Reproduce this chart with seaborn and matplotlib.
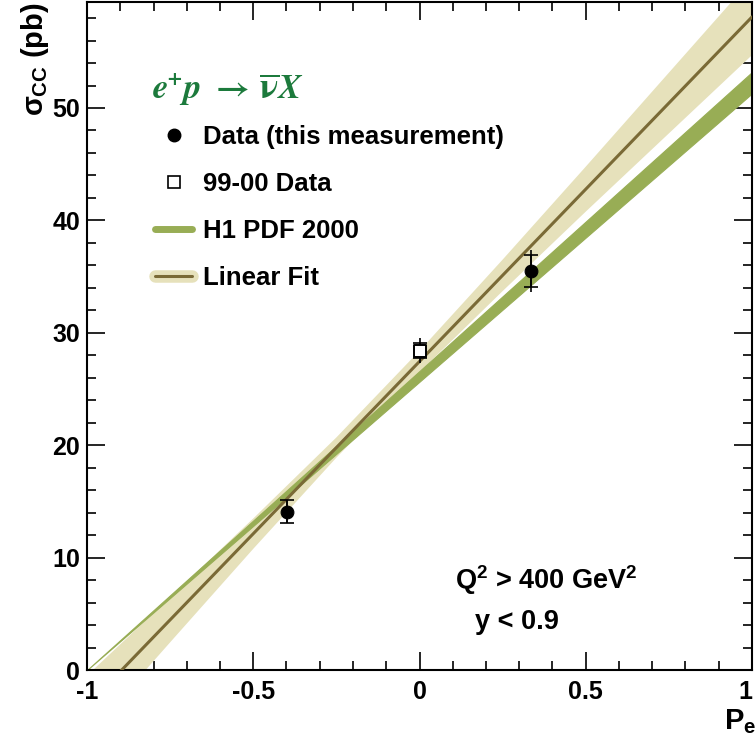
import numpy as np
import pandas as pd
import matplotlib
matplotlib.use("Agg")
import matplotlib.pyplot as plt
import seaborn as sns
from matplotlib.lines import Line2D
from matplotlib.legend_handler import HandlerTuple

# ---------------- data ----------------
data_x = [-0.40, 0.334]
data_y = [14.1, 35.5]
data_stat = [1.05, 1.45]
data_tot = [1.05, 1.85]

old_x = [0.0]
old_y = [28.4]
old_stat = [0.65]
old_tot = [1.1]

# H1 PDF 2000 prediction band
pdf_x = [-1.0, 1.0]
pdf_lo = [0.0, 51.3]
pdf_hi = [0.0, 53.2]

# linear fit line and its error band
fit_x = [-1.0, 1.0]
fit_y = [-3.2, 58.1]
band_x = [-1.0, -0.75, -0.5, -0.25, 0.0, 0.25, 0.5, 0.75, 1.0]
band_c = [-3.2, 4.46, 12.13, 19.79, 27.45, 35.11, 42.78, 50.44, 58.1]
band_hw = [2.7, 2.0, 1.35, 0.9, 0.95, 1.4, 2.0, 2.7, 3.4]

xtick_vals = [-1, -0.5, 0, 0.5, 1]
xtick_labels = ["-1", "-0.5", "0", "0.5", "1"]
ytick_vals = [0, 10, 20, 30, 40, 50]
ytick_labels = ["0", "10", "20", "30", "40", "50"]

# ---------------- style ----------------
sns.set_theme(style="ticks")
plt.rcParams["font.family"] = ["Liberation Sans", "DejaVu Sans"]
plt.rcParams["font.weight"] = "bold"
plt.rcParams["text.color"] = "black"
plt.rcParams["axes.labelcolor"] = "black"
plt.rcParams["xtick.color"] = "black"
plt.rcParams["ytick.color"] = "black"
plt.rcParams["mathtext.fontset"] = "custom"
plt.rcParams["mathtext.rm"] = "Liberation Sans:bold"
plt.rcParams["mathtext.bf"] = "Liberation Sans:bold"
plt.rcParams["mathtext.it"] = "Liberation Sans:bold"
plt.rcParams["mathtext.sf"] = "Liberation Sans:bold"

BEIGE = "#e6e1bb"
BROWN = "#7a6a36"
GREEN = "#98ad55"
TITLE_GREEN = "#1c7a3c"

fig = plt.figure(figsize=(7.55, 7.42), dpi=100)
ax = fig.add_axes([87 / 755, 1 - 670 / 742, (752 - 87) / 755, (670 - 2) / 742])

# fit band
bx = np.array(band_x)
bc = np.array(band_c)
bh = np.array(band_hw)
ax.fill_between(bx, bc - bh, bc + bh, color=BEIGE, lw=0, zorder=1)

# H1 PDF band
ax.fill_between(pdf_x, pdf_lo, pdf_hi, color=GREEN, lw=0.8, edgecolor=GREEN, zorder=2)

# fit line
fit_df = pd.DataFrame({"x": fit_x, "y": fit_y})
sns.lineplot(data=fit_df, x="x", y="y", color=BROWN, lw=2.2, ax=ax, zorder=3)

# error bars: total (no caps), stat (caps)
ax.errorbar(data_x, data_y, yerr=data_tot, fmt="none", ecolor="black", elinewidth=1.2, capsize=0, zorder=4)
ax.errorbar(data_x, data_y, yerr=data_stat, fmt="none", ecolor="black", elinewidth=1.2, capsize=5, capthick=1.2, zorder=4)
ax.errorbar(old_x, old_y, yerr=old_tot, fmt="none", ecolor="black", elinewidth=1.2, capsize=0, zorder=4)
ax.errorbar(old_x, old_y, yerr=old_stat, fmt="none", ecolor="black", elinewidth=1.2, capsize=5, capthick=1.2, zorder=4)

# markers
sns.scatterplot(x=data_x, y=data_y, marker="o", s=85, color="black", edgecolor="black", ax=ax, zorder=5)
sns.scatterplot(x=old_x, y=old_y, marker="s", s=85, facecolor="white", edgecolor="black", linewidth=1.4, ax=ax, zorder=5)

# axes
ax.set_xlim(-1, 1)
ax.set_ylim(0, 59.43)
ax.set_xticks(xtick_vals)
ax.set_xticklabels(xtick_labels, fontsize=18, fontweight="bold")
ax.get_xticklabels()[-1].set_horizontalalignment("right")
ax.set_yticks(ytick_vals)
ax.set_yticklabels(ytick_labels, fontsize=18, fontweight="bold")
ax.set_xticks(np.arange(-1, 1.001, 0.1), minor=True)
ax.set_yticks(np.arange(0, 59, 2), minor=True)
ax.tick_params(which="both", direction="in", top=True, right=True, width=1.2, color="black")
ax.tick_params(which="major", length=13, pad=7)
ax.tick_params(which="minor", length=6.5)
ax.tick_params(axis="y", which="major", pad=5)
for sp in ax.spines.values():
    sp.set_linewidth(1.5)
    sp.set_color("black")
ax.set_xlabel("")
ax.set_ylabel("")

fig.text(35 / 755, 1 - 2 / 742, r"$\sigma_{\mathrm{CC}}$ (pb)", rotation=90, ha="center", va="top",
         fontsize=21, fontweight="bold")
fig.text(740 / 755, 1 - 722 / 742, r"$\mathrm{P_e}$", ha="center", va="center", fontsize=21, fontweight="bold")

# title
fig.text(152 / 755, 1 - 90 / 742, r"$\mathbfit{e^{+}p}\ \rightarrow\, \overline{\mathbf{\nu}}\mathbfit{X}$",
         ha="left", va="center", fontsize=25, color=TITLE_GREEN, math_fontfamily="stix")

# legend
handles = [
    Line2D([], [], marker="o", ls="none", color="black", ms=9),
    Line2D([], [], marker="s", ls="none", mfc="white", mec="black", mew=1.2, ms=8),
    Line2D([], [], color=GREEN, lw=5),
    (Line2D([], [], color=BEIGE, lw=9), Line2D([], [], color=BROWN, lw=2.2)),
]
labels = ["Data (this measurement)", "99-00 Data", "H1 PDF 2000", "Linear Fit"]
leg = ax.legend(handles, labels, loc="upper left", bbox_to_anchor=(155 / 755, 1 - 125 / 742),
                bbox_transform=fig.transFigure, frameon=False, handlelength=1.45,
                handletextpad=0.4, labelspacing=0.89, borderpad=0, borderaxespad=0,
                handler_map={tuple: HandlerTuple(ndivide=1)}, prop={"weight": "bold", "size": 18.5})

fig.text(455 / 755, 1 - 580 / 742, r"Q$^{2}$ > 400 GeV$^{2}$", ha="left", va="center", fontsize=19.5, fontweight="bold")
fig.text(475 / 755, 1 - 622 / 742, "y < 0.9", ha="left", va="center", fontsize=19.5, fontweight="bold")

fig.savefig("out.png", dpi=100)
